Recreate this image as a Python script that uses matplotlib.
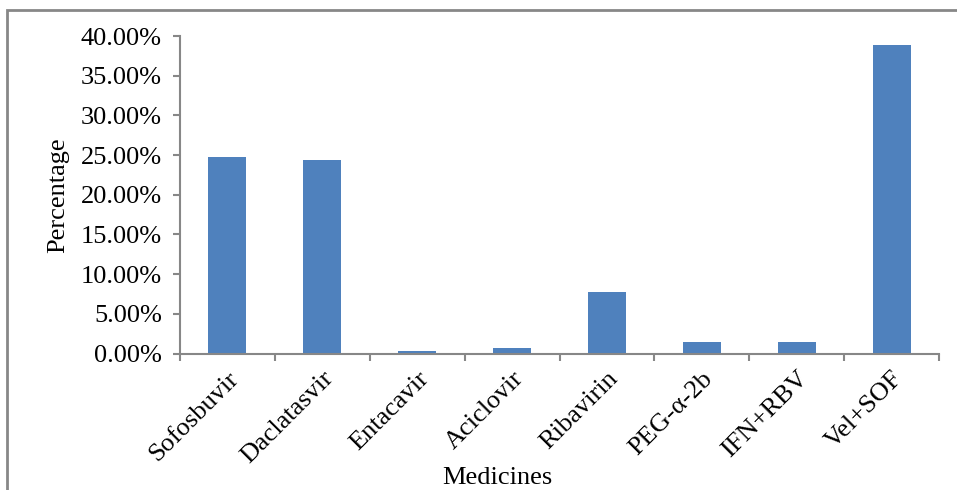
import matplotlib
matplotlib.use("Agg")
import matplotlib.pyplot as plt
from matplotlib.patches import Rectangle
from matplotlib.ticker import FuncFormatter, MultipleLocator
import numpy as np

medicines = ["Sofosbuvir", "Daclatasvir", "Entacavir", "Aciclovir",
             "Ribavirin", "PEG-\u03b1-2b", "IFN+RBV", "Vel+SOF"]
percentages = [24.76, 24.37, 0.32, 0.65, 7.77, 1.46, 1.46, 38.83]

plt.rcParams["font.family"] = ["Liberation Serif", "DejaVu Serif"]
axis_grey = "#878787"
bar_blue = "#4F81BD"

W, H = 957, 490
fig = plt.figure(figsize=(W / 100, H / 100), dpi=100)

# outer chart border
fig.add_artist(Rectangle((6.5 / W, -0.1), 1.2, 1.1 - 10.5 / H,
                         transform=fig.transFigure, fill=False,
                         edgecolor=axis_grey, linewidth=2))

ax = fig.add_axes([180 / W, 1 - 353.5 / H, (939 - 180) / W, (353.5 - 36) / H])

x = np.arange(len(medicines))
ax.bar(x, [p / 100 for p in percentages], width=0.4, color=bar_blue, zorder=2)

ax.set_xlim(-0.5, len(medicines) - 0.5)
ax.set_ylim(0, 0.40)

ax.yaxis.set_major_locator(MultipleLocator(0.05))
ax.yaxis.set_major_formatter(FuncFormatter(lambda v, _: f"{v * 100:.2f}%"))

for side in ("top", "right"):
    ax.spines[side].set_visible(False)
for side in ("left", "bottom"):
    ax.spines[side].set_color(axis_grey)
    ax.spines[side].set_linewidth(1.5)

ax.tick_params(axis="y", direction="out", length=5, width=1.5,
               color=axis_grey, labelsize=19, pad=8)
ax.set_xticks(np.arange(len(medicines) + 1) - 0.5)
ax.set_xticklabels([])
ax.tick_params(axis="x", which="major", direction="out", length=5,
               width=1.5, color=axis_grey)
ax.set_xticks(x, minor=True)
ax.set_xticklabels(medicines, minor=True, rotation=45, ha="right",
                   va="top", rotation_mode="anchor", fontsize=19)
ax.tick_params(axis="x", which="minor", length=0, pad=10)

fig.text(58 / W, 1 - 195 / H, "Percentage", rotation=90, ha="center",
         va="center", fontsize=19)
fig.text(497 / W, 1 - 478 / H, "Medicines", ha="center", va="center",
         fontsize=19)

fig.savefig("out.png", dpi=100)
